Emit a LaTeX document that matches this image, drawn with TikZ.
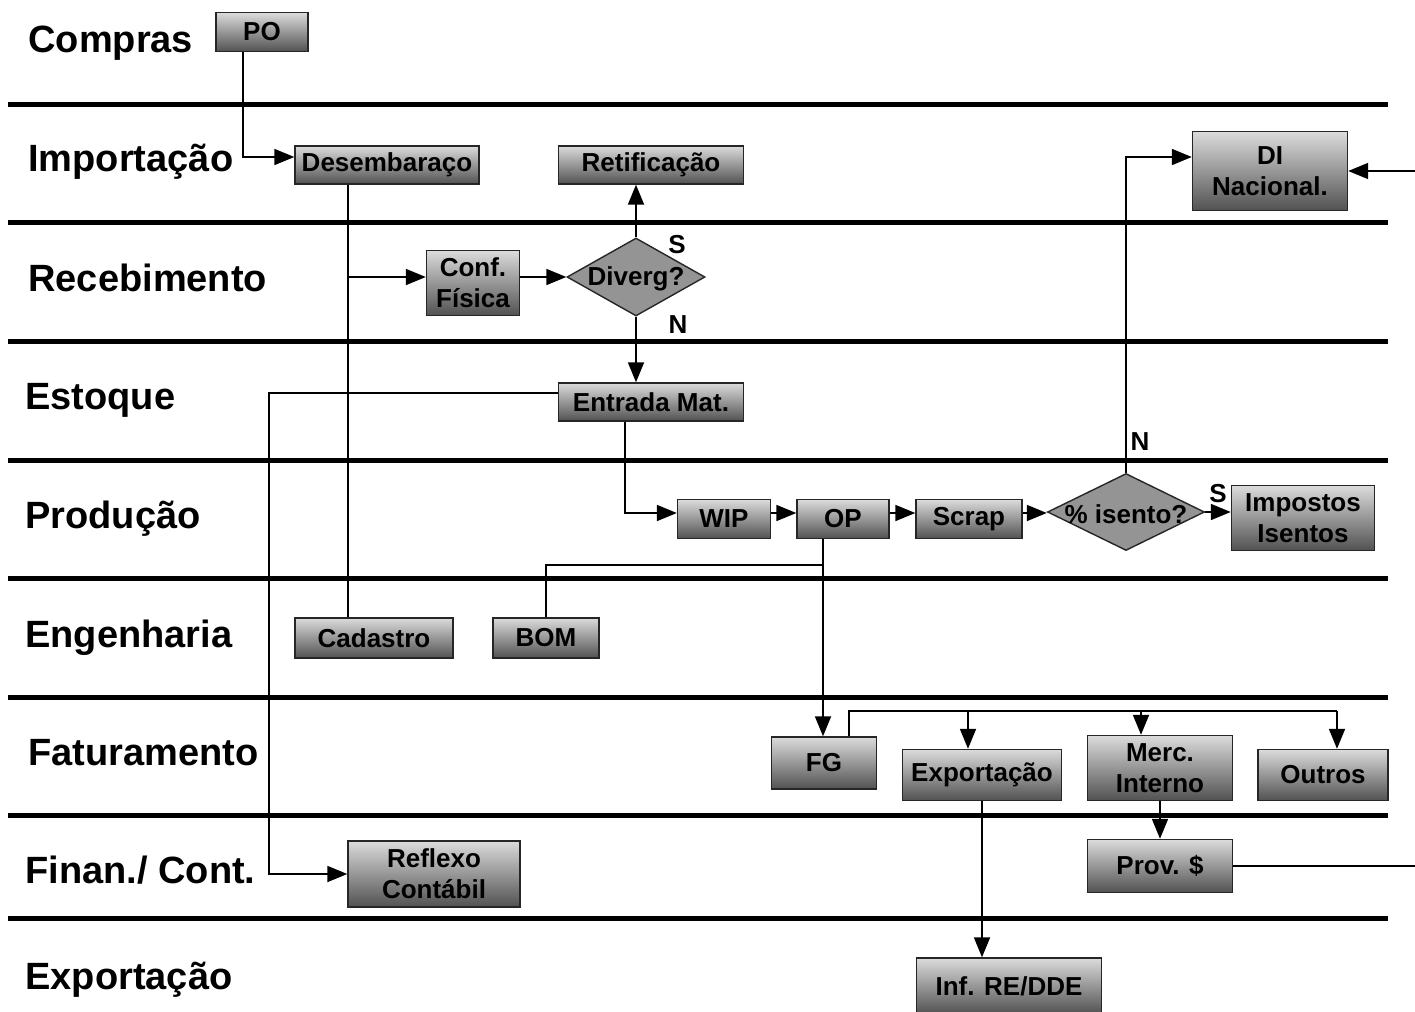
\documentclass[tikz,border=0pt]{standalone}
\usepackage{fontspec}
\setmainfont{Liberation Sans}
\usetikzlibrary{shapes.geometric,arrows.meta}

\tikzset{
  lane/.style={line width=2.5pt},
  proc/.style={rectangle, draw=black!85, line width=0.7pt, top color=black!14, bottom color=black!68,
    inner sep=0pt, align=center, font=\fontsize{13}{15.5}\selectfont\bfseries},
  decision/.style={diamond, draw=black!85, line width=0.7pt, fill=black!42, inner sep=0pt},
  dtext/.style={inner sep=0pt, font=\fontsize{13}{15.5}\selectfont\bfseries},
  lanelabel/.style={anchor=base west, inner sep=0pt, font=\fontsize{19}{21}\selectfont\bfseries},
  yesno/.style={inner sep=0pt, font=\fontsize{13}{15}\selectfont\bfseries},
  flow/.style={line width=0.9pt},
}

\begin{document}
\begin{tikzpicture}[x=0.5pt, y=-0.5pt, >={Triangle[length=10pt,width=8pt]}]
                \useasboundingbox[fill=white] (0,0) rectangle (1415,1012);

                % Lanes
                \foreach \ly in {104, 222, 341, 460, 578, 697, 815, 918}
                    \draw[lane] (8,\ly) -- (1388,\ly);

                \node[lanelabel] (lcompras) at (28,53) {Compras};
                \node[lanelabel] (limport) at (28,171) {Importação};
                \node[lanelabel] (lreceb) at (28,291) {Recebimento};
                \node[lanelabel] (lestoque) at (25,409) {Estoque};
                \node[lanelabel] (lprod) at (25,528) {Produção};
                \node[lanelabel] (lengen) at (25,647) {Engenharia};
                \node[lanelabel] (lfatur) at (28,765) {Faturamento};
                \node[lanelabel] (lfinan) at (25,883) {Finan./ Cont.};
                \node[lanelabel] (lexport) at (25,989) {Exportação};

                % Nodes
                \node[proc, minimum width=46pt, minimum height=19.5pt] at (262,32) (po) {PO};
                \node[proc, minimum width=92pt, minimum height=19pt] at (387,165) (desemb) {Desembaraço};
                \node[proc, minimum width=92.5pt, minimum height=19pt] at (651,165) (retif) {Retificação};
                \node[proc, minimum width=77.5pt, minimum height=39.5pt] at (1270,171) (di) {DI\\Nacional.};
                \node[proc, minimum width=46.5pt, minimum height=32.5pt] at (473,283) (conf) {Conf.\\Física};
                \node[decision, minimum width=69pt, minimum height=39pt] at (636,277) (div) {};
                \node[dtext] at (636,279) (divtxt) {Diverg?};
                \node[proc, minimum width=92.5pt, minimum height=19pt] at (651,402) (entrada) {Entrada Mat.};
                \node[proc, minimum width=46.5pt, minimum height=19.5pt] at (724,519) (wip) {WIP};
                \node[proc, minimum width=46pt, minimum height=19.5pt] at (843,519) (op) {OP};
                \node[proc, minimum width=53pt, minimum height=19.5pt] at (969,519) (scrap) {Scrap};
                \node[decision, minimum width=78.5pt, minimum height=38.5pt] at (1126,512) (isento) {};
                \node[dtext] at (1126,514) (isentotxt) {\% isento?};
                \node[proc, minimum width=71.5pt, minimum height=32.5pt] at (1303,518) (impostos) {Impostos\\Isentos};
                \node[proc, minimum width=79pt, minimum height=20pt] at (374,638) (cadastro) {Cadastro};
                \node[proc, minimum width=53pt, minimum height=20pt] at (546,638) (bom) {BOM};
                \node[proc, minimum width=52.5pt, minimum height=26pt] at (824,763) (fg) {FG};
                \node[proc, minimum width=79.5pt, minimum height=25.5pt] at (982,775) (expo) {Exportação};
                \node[proc, minimum width=72.5pt, minimum height=32.5pt] at (1160,768) (merc) {Merc.\\Interno};
                \node[proc, minimum width=65pt, minimum height=25.5pt] at (1323,775) (outros) {Outros};
                \node[proc, minimum width=86pt, minimum height=33pt] at (434,874) (reflexo) {Reflexo\\Contábil};
                \node[proc, minimum width=72.5pt, minimum height=26.5pt] at (1160,866) (prov) {Prov. \$};
                \node[proc, minimum width=92.5pt, minimum height=28pt] at (1009,986) (inf) {Inf. RE/DDE};

                \node[yesno] at (677,245) (s1) {S};
                \node[yesno] at (678,325) (n1) {N};
                \node[yesno] at (1140,442) (n2) {N};
                \node[yesno] at (1218,494) (s2) {S};

                % Junctions
                \coordinate (poj) at (243,157);
                \coordinate (dj) at (348,277);
                \coordinate (ej) at (269,393);
                \coordinate (wj) at (625,513);
                \coordinate (nj) at (1126,157);
                \coordinate (oj) at (823,565);
                \coordinate (fj) at (849,711);
                \coordinate (fa) at (968,711);
                \coordinate (fb) at (1141,711);
                \coordinate (fc) at (1337,711);
                \coordinate (rin) at (1415,171);
                \coordinate (rout) at (1415,866);

                % Edges
                \draw[flow, ->] (po.south -| poj) -- (poj) -- (desemb.west |- poj);

                \draw[flow] (desemb.south -| dj) -- (cadastro.north -| dj);
                \draw[flow, ->] (dj) -- (conf.west |- dj);

                \draw[flow, ->] (conf.east |- div.west) -- (div.west);

                \draw[flow, ->] (div.north) -- (retif.south -| div.north);

                \draw[flow, ->] (div.south) -- (entrada.north -| div.south);

                \draw[flow, ->] (entrada.west |- ej) -- (ej) |- (reflexo.west);

                \draw[flow, ->] (entrada.south -| wj) -- (wj) -- (wip.west |- wj);

                \draw[flow, ->] (wip.east |- wj) -- (op.west |- wj);

                \draw[flow, ->] (op.east |- wj) -- (scrap.west |- wj);

                \draw[flow, ->] (scrap.east |- wj) -- (isento.west |- wj);

                \draw[flow, ->] (isento.east) -- (impostos.west |- isento.east);

                \draw[flow, ->] (isento.north) -- (nj) -- (di.west |- nj);

                \draw[flow, ->] (rin) -- (di.east);

                \draw[flow, ->] (op.south -| oj) -- (fg.north -| oj);
                \draw[flow] (oj) -| (bom.north);

                \draw[flow] (fg.north -| fj) -- (fj) -- (fc);
                \draw[flow, ->] (fa) -- (expo.north -| fa);
                \draw[flow, ->] (fb) -- (merc.north -| fb);
                \draw[flow, ->] (fc) -- (outros.north -| fc);

                \draw[flow, ->] (merc.south) -- (prov.north);

                \draw[flow] (prov.east) -- (rout);

                \draw[flow, ->] (expo.south) -- (inf.north -| expo.south);
            \end{tikzpicture}
\end{document}
